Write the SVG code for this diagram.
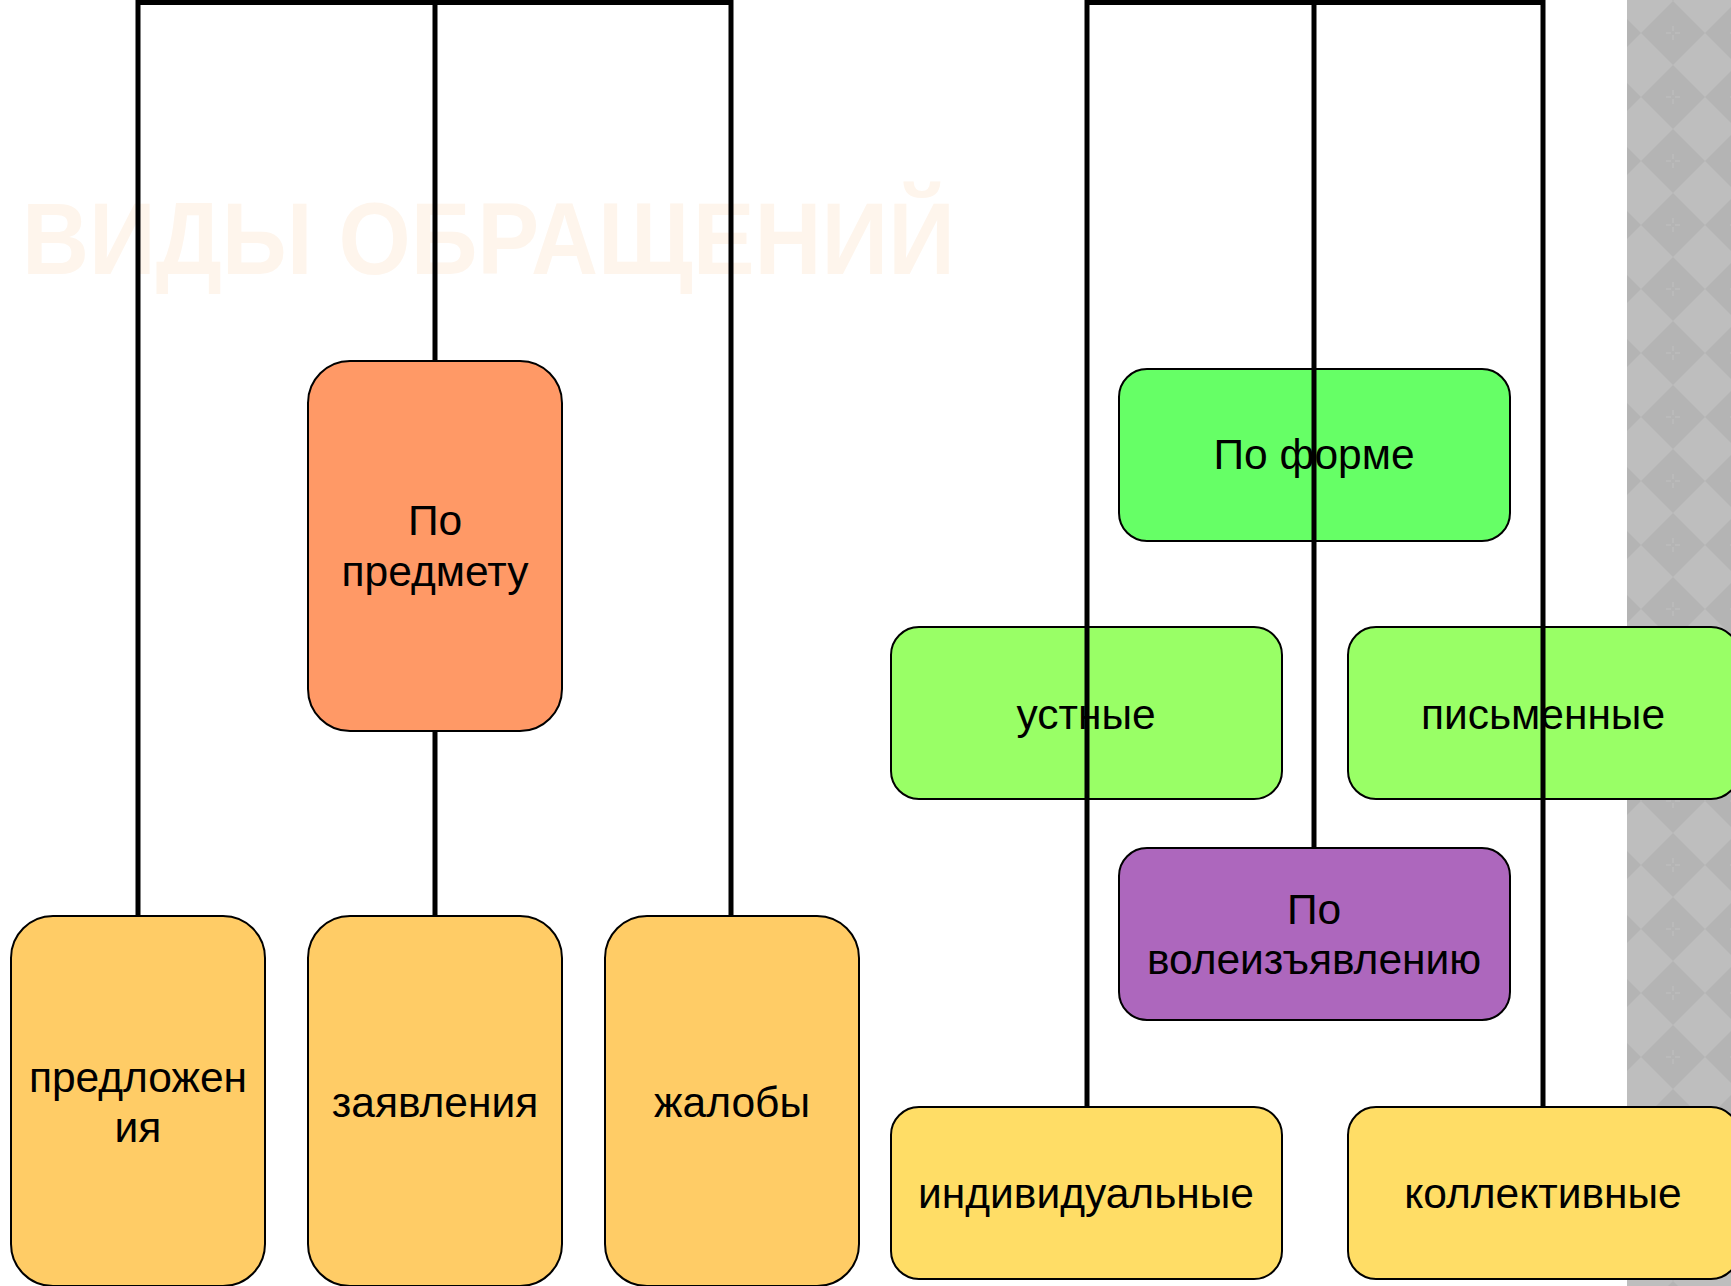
<svg xmlns="http://www.w3.org/2000/svg" width="1731" height="1286" viewBox="0 0 1731 1286">
<style>
.t{font-family:"Liberation Sans",Arial,sans-serif;font-size:42.5px;fill:#000;text-anchor:middle}
.box{stroke:#000;stroke-width:2}
.con{fill:none;stroke:#000;stroke-width:5;stroke-linejoin:miter}
</style>
<defs>
<pattern id="diam" patternUnits="userSpaceOnUse" x="1641" y="1" width="64" height="64">
<rect width="64" height="64" fill="#BEBEBE"/>
<polygon points="0,32 32,0 64,32 32,64" fill="#B4B4B4"/>
<path d="M32 25 V30 M32 34 V39 M25 32 H30 M34 32 H39" stroke="#C0C0C0" stroke-width="1"/>
</pattern>
</defs>
<rect width="1731" height="1286" fill="#FFFFFF"/>
<rect x="1627" y="0" width="104" height="1286" fill="url(#diam)"/>
<text x="22" y="274" font-family="'Liberation Sans',Arial,sans-serif" font-weight="bold" font-size="102" fill="#FEF5EC" textLength="933" lengthAdjust="spacingAndGlyphs">ВИДЫ ОБРАЩЕНИЙ</text>

<g id="node-po-forme"><rect class="box" x="1119" y="369" width="391" height="172" rx="28" fill="#66FF66"/><text class="t" x="1314" y="469">По форме</text></g>
<g id="node-ustnye"><rect class="box" x="891" y="627" width="391" height="172" rx="28" fill="#99FF66"/><text class="t" x="1086" y="729">устные</text></g>
<g id="node-pismennye"><rect class="box" x="1348" y="627" width="391" height="172" rx="28" fill="#99FF66"/><text class="t" x="1543" y="729">письменные</text></g>

<g id="connectors">
<path class="con" d="M138 916 V2.5 H731 V916"/>
<path class="con" d="M435 2.5 V916"/>
<path class="con" d="M1087 1107 V2.5 H1543 V1107"/>
<path class="con" d="M1314 2.5 V848"/>
</g>

<g id="node-po-predmetu"><rect class="box" x="308" y="361" width="254" height="370" rx="42" fill="#FF9966"/><text class="t" x="435" y="535">По</text><text class="t" x="435" y="586">предмету</text></g>
<g id="node-predlozheniya"><rect class="box" x="11" y="916" width="254" height="370" rx="42" fill="#FFCC66"/><text class="t" x="138" y="1092">предложен</text><text class="t" x="138" y="1142">ия</text></g>
<g id="node-zayavleniya"><rect class="box" x="308" y="916" width="254" height="370" rx="42" fill="#FFCC66"/><text class="t" x="435" y="1117">заявления</text></g>
<g id="node-zhaloby"><rect class="box" x="605" y="916" width="254" height="370" rx="42" fill="#FFCC66"/><text class="t" x="732" y="1117">жалобы</text></g>

<g id="node-po-voleizyavleniyu"><rect class="box" x="1119" y="848" width="391" height="172" rx="28" fill="#AD67BD"/><text class="t" x="1314" y="924">По</text><text class="t" x="1314" y="974">волеизъявлению</text></g>
<g id="node-individualnye"><rect class="box" x="891" y="1107" width="391" height="172" rx="28" fill="#FFDD66"/><text class="t" x="1086" y="1208">индивидуальные</text></g>
<g id="node-kollektivnye"><rect class="box" x="1348" y="1107" width="391" height="172" rx="28" fill="#FFDD66"/><text class="t" x="1543" y="1208">коллективные</text></g>
</svg>
